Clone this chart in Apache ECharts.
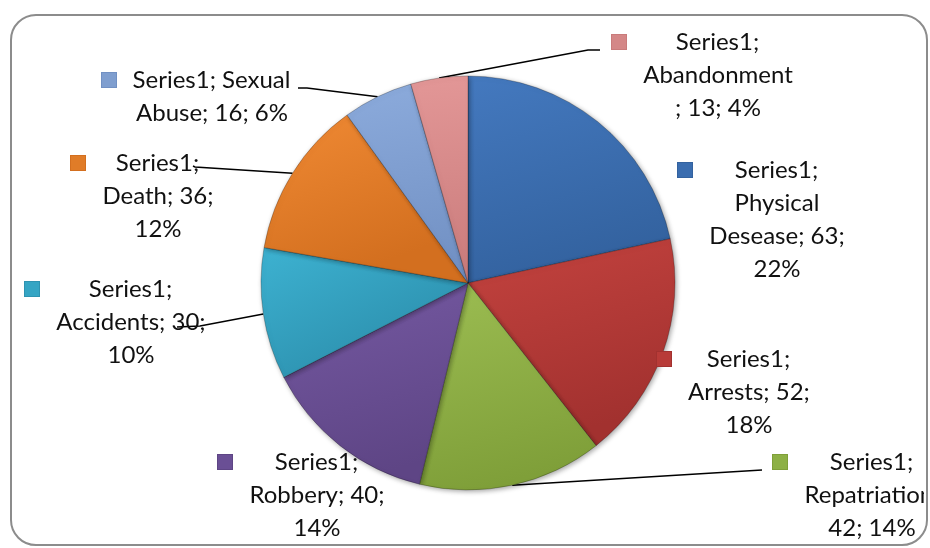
<!DOCTYPE html>
<html><head><meta charset="utf-8">
<script src="https://cdn.jsdelivr.net/npm/echarts@6/dist/echarts.min.js"></script>
<style>html,body{margin:0;padding:0;background:#fff}#c{width:930px;height:548px}</style>
</head><body><div id="c"></div>
<script>
const seriesName = 'Series1';
const categories = ['Physical Desease', 'Arrests', 'Repatriation', 'Robbery', 'Accidents', 'Death', 'Sexual Abuse', 'Abandonment'];
const values = [63, 52, 42, 40, 30, 36, 16, 13];
// label text lines ({s}=series, {v}=value, {p}=percent)
const labelLines = [
  ['{s};', 'Physical', 'Desease; {v};', '{p}%'],
  ['{s};', 'Arrests; {v};', '{p}%'],
  ['{s};', 'Repatriation;', '{v}; {p}%'],
  ['{s};', 'Robbery; {v};', '{p}%'],
  ['{s};', 'Accidents; {v};', '{p}%'],
  ['{s};', 'Death; {v};', '{p}%'],
  ['{s}; Sexual', 'Abuse; {v}; {p}%'],
  ['{s};', 'Abandonment', '; {v}; {p}%']
];

// ---- styling / layout ----
const FONT_SIZE = 24, FONT_FAMILY = 'Lato', LH = 33, TEXT_COLOR = '#111';
const topColors = ['#4479bf', '#c4433f', '#9cbd52', '#7559a2', '#3db2d1', '#f08a34', '#8cabdc', '#e39797'];
const botColors = ['#33629f', '#a2312f', '#7f9f39', '#5e4585', '#2e93b1', '#d36f1f', '#7190c3', '#c97b7b'];
const keyColors = ['#3a6db0', '#b83b38', '#8db045', '#6a4f95', '#35a5c4', '#e07c28', '#7f9ecf', '#d48787'];
// label anchor: [text centre x, first line centre y]
const labelAnchor = [[777, 170], [749, 359], [872, 462], [317, 462], [131, 289], [158, 163], [212, 80], [718, 42]];
// leader lines: knee and end offsets from the label anchor
const leaders = [null, null,
  { knee: [-110, 8], end: [-110, 8] },
  null,
  { knee: [69, 37], end: [46, 38] },
  { knee: [37, 4], end: [35, 3] },
  { knee: [95, 8], end: [86, 8] },
  { knee: [-130, 8], end: [-118, 8] }
];

function percents(vals) {
  const sum = vals.reduce((a, b) => a + b, 0);
  const raw = vals.map(v => v / sum * 100);
  const fl = raw.map(Math.floor);
  let rem = 100 - fl.reduce((a, b) => a + b, 0);
  const order = raw.map((r, i) => [r - fl[i], i]).sort((a, b) => b[0] - a[0]);
  for (let k = 0; k < rem; k++) fl[order[k][1]]++;
  return fl;
}
const pct = percents(values);
function lineText(i, ln, v, p) {
  return ln.replace('{s}', seriesName).replace('{v}', v).replace('{p}', p);
}
const ctx = document.createElement('canvas').getContext('2d');
ctx.font = FONT_SIZE + 'px ' + FONT_FAMILY;
const widths = labelLines.map((lines, i) =>
  Math.ceil(Math.max(...lines.map(ln => ctx.measureText(lineText(i, ln, values[i], pct[i])).width))) + 2);

const rich = { g: { width: 15, lineHeight: LH }, sp: { width: 30, lineHeight: LH } };
categories.forEach((c, i) => {
  rich['m' + i] = { width: 14, height: 14, backgroundColor: keyColors[i], borderColor: botColors[i], borderWidth: 1, lineHeight: LH };
  rich['c' + i] = { width: widths[i], align: 'center', fontSize: FONT_SIZE, fontFamily: FONT_FAMILY, color: TEXT_COLOR, lineHeight: LH };
});

const data = categories.map((name, i) => ({
  name, value: values[i],
  itemStyle: {
    color: new echarts.graphic.LinearGradient(0, 0, 0.3, 1, [
      { offset: 0, color: topColors[i] }, { offset: 1, color: botColors[i] }])
  },
  labelLine: { show: !!leaders[i] }
}));

const chart = echarts.init(document.getElementById('c'));
chart.setOption({
  animation: false,
  backgroundColor: '#fff',
  graphic: [
    { type: 'rect', z: 100, shape: { x: 924, y: 430, width: 6, height: 110 }, style: { fill: '#fff' } },
    { type: 'rect', z: 101, shape: { x: 11, y: 15, width: 916, height: 530, r: 25 }, style: { fill: 'none', stroke: '#8c8c8c', lineWidth: 2 } }
  ],
  series: [{
    type: 'pie',
    name: seriesName,
    center: [468, 283],
    radius: 207,
    startAngle: 90,
    clockwise: true,
    percentPrecision: 0,
    avoidLabelOverlap: false,
    itemStyle: { borderColor: 'rgba(0,0,0,0.3)', borderWidth: 0.8, shadowBlur: 5, shadowColor: 'rgba(0,0,0,0.35)', shadowOffsetX: 1.5, shadowOffsetY: 1.5 },
    label: {
      show: true, position: 'outside', rich,
      formatter: function (p) {
        const i = p.dataIndex;
        return labelLines[i].map((ln, k) =>
          (k === 0 ? '{m' + i + '|}{g|}' : '{sp|}') + '{c' + i + '|' + lineText(i, ln, p.value, p.percent) + '}'
        ).join('\n');
      }
    },
    labelLine: { show: true, lineStyle: { color: '#000', width: 1.5 }, length: 10, length2: 10 },
    labelLayout: function (params) {
      const i = params.dataIndex;
      const a = labelAnchor[i];
      const res = { x: a[0] - widths[i] / 2 - 30, y: a[1] - LH / 2, align: 'left', verticalAlign: 'top', hideOverlap: false };
      const ld = leaders[i];
      if (ld && params.labelLinePoints) {
        const p0 = params.labelLinePoints[0];
        res.labelLinePoints = [p0, [a[0] + ld.knee[0], a[1] + ld.knee[1]], [a[0] + ld.end[0], a[1] + ld.end[1]]];
      }
      return res;
    },
    data
  }]
});
</script></body></html>
